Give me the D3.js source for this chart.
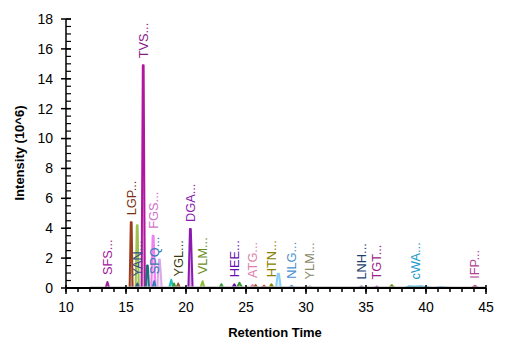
<!DOCTYPE html>
<html>
<head>
<meta charset="utf-8">
<script src="https://cdn.jsdelivr.net/npm/d3@7"></script>
<style>
  body { margin: 0; background: #fff; }
  text { font-family: "Liberation Sans", Arial, sans-serif; }
</style>
</head>
<body>
<script>
// peptide labels (null = unlabeled trace)
var peptides = ["SFS...", "LGP...", null, "YAN...", "TVS...", null, "FGS...", "SPQ...", null,
                null, null, "YGL...", "DGA...", "VLM...", null, "HEE...", null, "ATG...", null, null,
                "HTN...", null, "NLG...", "YLM...", "LNH...", "TGT...", null, "cWA...", null, "IFP...", null];

// trace points per peptide: [retention time, intensity (10^6)]
var traces = [
  [[13.3, 0], [13.45, 0.4], [13.6, 0]],
  [[15.3, 0], [15.4, 4.4], [15.47, 4.4], [15.55, 0]],
  [[15.8, 0], [15.9, 4.2], [15.97, 4.2], [16.07, 0]],
  [[15.8, 0], [15.95, 0.3], [16.1, 0]],
  [[16.3, 0], [16.4, 14.9], [16.47, 14.9], [16.57, 0]],
  [[16.65, 0], [16.75, 1.5], [16.82, 1.5], [16.92, 0]],
  [[17.1, 0], [17.22, 3.5], [17.3, 3.5], [17.45, 0]],
  [[17.2, 0], [17.35, 0.45], [17.5, 0]],
  [[17.6, 0], [17.75, 1.9], [17.82, 1.9], [17.98, 0]],
  [[18.6, 0], [18.77, 0.55], [18.95, 0]],
  [[18.85, 0], [19.0, 0.3], [19.15, 0]],
  [[19.2, 0], [19.35, 0.3], [19.5, 0]],
  [[20.2, 0], [20.33, 3.95], [20.4, 3.95], [20.55, 0]],
  [[21.2, 0], [21.38, 0.45], [21.55, 0]],
  [[22.8, 0], [22.95, 0.25], [23.1, 0]],
  [[23.85, 0], [24.03, 0.25], [24.2, 0]],
  [[24.25, 0], [24.45, 0.35], [24.7, 0]],
  [[25.35, 0], [25.54, 0.2], [25.7, 0]],
  [[25.65, 0], [25.8, 0.2], [25.95, 0]],
  [[26.3, 0], [26.5, 0.15], [26.7, 0]],
  [[26.95, 0], [27.12, 0.25], [27.3, 0]],
  [[27.5, 0], [27.65, 0.95], [27.75, 0.95], [27.9, 0]],
  [[28.6, 0], [28.8, 0.15], [29.0, 0]],
  [[30.1, 0], [30.3, 0.1], [30.5, 0]],
  [[34.4, 0], [34.64, 0.1], [34.85, 0]],
  [[35.7, 0], [35.9, 0.1], [36.1, 0]],
  [[36.95, 0], [37.15, 0.2], [37.35, 0]],
  [[38.3, 0], [38.57, 0.1], [39.0, 0.08], [39.6, 0.1], [40.5, 0]],
  [[40.8, 0], [41.2, 0.06], [42.0, 0]],
  [[43.8, 0], [44.08, 0.15], [44.35, 0]],
  [[12.0, 0.03], [29.0, 0.05], [45.0, 0.03]]
];

var traceColors = ["#a0209a", "#9b3c1e", "#9bc24f", "#3a5a8a", "#b0169e", "#1f6f7f", "#ee82ee",
                   "#3a7ab8", "#d8a8e8", "#20c0c0", "#3a9a3a", "#8b5a2b", "#8a1ab0", "#8fbc3f",
                   "#3a9a3a", "#6a0dad", "#3a9a3a", "#e080a8", "#a0522d", "#c04040", "#8b8000",
                   "#87cefa", "#4a90d0", "#8a8a6a", "#1f3f6f", "#9b1b8b", "#6b8e23", "#1a9acd",
                   "#4ab0e0", "#b04090", "#bbbbbb"];
var labelColors = {"SFS...": "#a0209a", "LGP...": "#7a2e10", "YAN...": "#2f4f7f", "TVS...": "#8b1a8b",
                   "FGS...": "#d070d0", "SPQ...": "#3a7ab8", "YGL...": "#3a3a10", "DGA...": "#8a1ab0",
                   "VLM...": "#6b8e23", "HEE...": "#6a0dad", "ATG...": "#e080a8", "HTN...": "#8b8000",
                   "NLG...": "#4a90d0", "YLM...": "#8a8a6a", "LNH...": "#1f3f6f", "TGT...": "#9b1b8b",
                   "cWA...": "#1a9acd", "IFP...": "#b04090"};

var xTicks = [10, 15, 20, 25, 30, 35, 40, 45];
var yTicks = [0, 2, 4, 6, 8, 10, 12, 14, 16, 18];

var width = 507, height = 351;
var x = d3.scaleLinear().domain([10, 45]).range([66, 486]);
var y = d3.scaleLinear().domain([0, 18]).range([288, 19]);

var svg = d3.select("body").append("svg")
    .attr("width", width)
    .attr("height", height);

var area = d3.area()
    .x(function (d) { return x(d[0]); })
    .y0(y(0))
    .y1(function (d) { return y(d[1]); });
var line = d3.line()
    .x(function (d) { return x(d[0]); })
    .y(function (d) { return y(d[1]); });

// fills first, then outlines
svg.append("g").selectAll("path")
    .data(traces)
    .join("path")
    .attr("d", area)
    .attr("fill", function (d, i) { return traceColors[i]; })
    .attr("fill-opacity", 0.3);
svg.append("g").selectAll("path")
    .data(traces)
    .join("path")
    .attr("d", line)
    .attr("fill", "none")
    .attr("stroke", function (d, i) { return traceColors[i]; })
    .attr("stroke-width", 2)
    .attr("stroke-linejoin", "round");

// peak labels, placed just above each apex
svg.append("g").selectAll("text")
    .data(traces.map(function (t, i) {
        var top = t.reduce(function (a, b) { return b[1] > a[1] ? b : a; });
        var pts = t.filter(function (p) { return p[1] === top[1]; });
        var rt = d3.mean(pts, function (p) { return p[0]; });
        return {name: peptides[i], rt: rt, h: top[1]};
    }).filter(function (d) { return d.name; }))
    .join("text")
    .attr("transform", function (d) { return "translate(" + x(d.rt) + "," + (y(d.h) - 7) + ") rotate(-90)"; })
    .attr("dy", "0.35em")
    .attr("font-size", 12.8)
    .attr("fill", function (d) { return labelColors[d.name]; })
    .text(function (d) { return d.name; });

// x axis
var gx = svg.append("g");
gx.append("line").attr("x1", x(10)).attr("x2", x(45)).attr("y1", y(0)).attr("y2", y(0))
    .attr("stroke", "#000").attr("stroke-width", 2);
gx.selectAll("line.minor").data(d3.range(10, 46, 1)).join("line").attr("class", "minor")
    .attr("x1", function (d) { return x(d); }).attr("x2", function (d) { return x(d); })
    .attr("y1", y(0)).attr("y2", y(0) + 4)
    .attr("stroke", "#000").attr("stroke-width", 1.5);
gx.selectAll("line.major").data(xTicks).join("line").attr("class", "major")
    .attr("x1", function (d) { return x(d); }).attr("x2", function (d) { return x(d); })
    .attr("y1", y(0) - 3).attr("y2", y(0) + 6)
    .attr("stroke", "#000").attr("stroke-width", 1.5);
gx.selectAll("text").data(xTicks).join("text")
    .attr("x", function (d) { return x(d); }).attr("y", 312)
    .attr("text-anchor", "middle").attr("font-size", 14)
    .text(function (d) { return d; });

// y axis
var gy = svg.append("g");
gy.append("line").attr("x1", x(10)).attr("x2", x(10)).attr("y1", y(0)).attr("y2", y(18))
    .attr("stroke", "#000").attr("stroke-width", 1.5);
gy.selectAll("line.minor").data(d3.range(0, 18.01, 0.5)).join("line").attr("class", "minor")
    .attr("x1", x(10)).attr("x2", x(10) + 5)
    .attr("y1", function (d) { return y(d); }).attr("y2", function (d) { return y(d); })
    .attr("stroke", "#000").attr("stroke-width", 1.2);
gy.selectAll("line.major").data(yTicks).join("line").attr("class", "major")
    .attr("x1", x(10) - 5).attr("x2", x(10) + 5)
    .attr("y1", function (d) { return y(d); }).attr("y2", function (d) { return y(d); })
    .attr("stroke", "#000").attr("stroke-width", 1.5);
gy.selectAll("text").data(yTicks).join("text")
    .attr("x", 53).attr("y", function (d) { return y(d); })
    .attr("dy", "0.35em").attr("text-anchor", "end").attr("font-size", 14)
    .text(function (d) { return d; });

// axis titles
svg.append("text")
    .attr("x", 275).attr("y", 337)
    .attr("text-anchor", "middle").attr("font-size", 13).attr("font-weight", "bold")
    .text("Retention Time");
svg.append("text")
    .attr("transform", "translate(19,153) rotate(-90)")
    .attr("dy", "0.35em")
    .attr("text-anchor", "middle").attr("font-size", 13).attr("font-weight", "bold")
    .text("Intensity (10^6)");
</script>
</body>
</html>
